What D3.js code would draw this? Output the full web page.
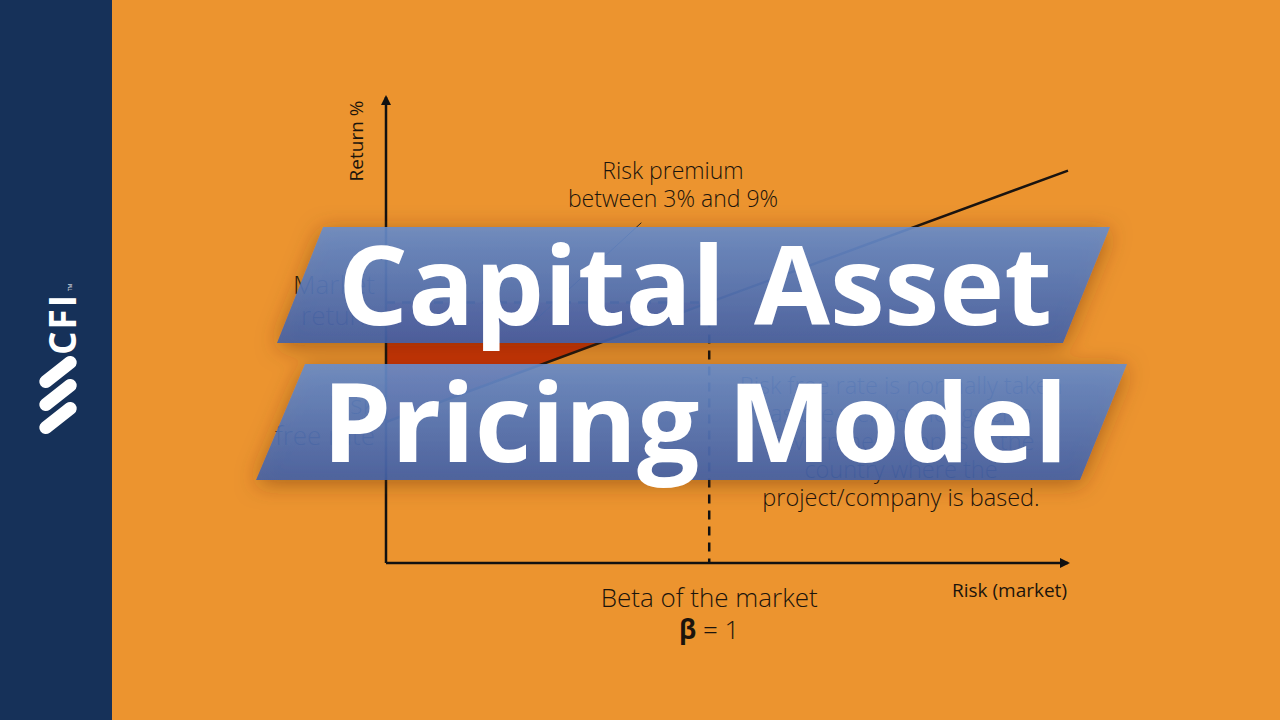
<!DOCTYPE html>
<html>
<head>
<meta charset="utf-8">
<script src="https://cdn.jsdelivr.net/npm/d3@7"></script>
<style>
  html, body { margin: 0; padding: 0; background: #ec942f; }
  svg { display: block; }
</style>
</head>
<body>
<div id="capm"></div>
<script>
// security market line: beta -> expected return (%)
const betas = [0, 1, 2.11];
const smlReturns = [4.6, 8.5, 12.8];
const riskFree = 4.6;
const marketReturn = 8.5;
const marketBeta = 1;

const titleLines = ["Capital Asset", "Pricing Model"];
const noteLines = [
    "Risk free rate is normally taken",
    "as the yield on long-term",
    "government bonds in the",
    "country where the",
    "project/company is based."
];
const premiumLines = ["Risk premium", "between 3% and 9%"];

const W = 1280, H = 720;
const font = "'Open Sans', 'Noto Sans', sans-serif";

const svg = d3.select("#capm")
    .append("svg")
    .attr("width", W)
    .attr("height", H);

const defs = svg.append("defs");

defs.append("marker")
    .attr("id", "arrow")
    .attr("viewBox", "0 0 10 10")
    .attr("refX", 8).attr("refY", 5)
    .attr("markerWidth", 4).attr("markerHeight", 4)
    .attr("orient", "auto")
    .append("path")
    .attr("d", "M0,0L10,5L0,10Z")
    .attr("fill", "#111");

defs.append("marker")
    .attr("id", "thinArrow")
    .attr("viewBox", "0 0 10 10")
    .attr("refX", 8).attr("refY", 5)
    .attr("markerWidth", 7).attr("markerHeight", 7)
    .attr("orient", "auto")
    .append("path")
    .attr("d", "M0,1L10,5L0,9Z")
    .attr("fill", "#222");

const grad = defs.append("linearGradient")
    .attr("id", "bannerGrad")
    .attr("x1", 0).attr("y1", 0).attr("x2", 0).attr("y2", 1);
grad.append("stop").attr("offset", "0%").attr("stop-color", "#688dca");
grad.append("stop").attr("offset", "100%").attr("stop-color", "#4361a6");

const shadow = defs.append("filter")
    .attr("id", "shadow")
    .attr("x", "-20%").attr("y", "-40%")
    .attr("width", "140%").attr("height", "180%");
shadow.append("feDropShadow")
    .attr("dx", 0).attr("dy", 4)
    .attr("stdDeviation", 11)
    .attr("flood-color", "#5a2a00")
    .attr("flood-opacity", 0.5);

// background
svg.append("rect")
    .attr("width", W).attr("height", H)
    .attr("fill", "#ec942f");

const x = d3.scaleLinear()
    .domain([0, 2.11])
    .range([386, 1068]);

const y = d3.scaleLinear()
    .domain([0, 15.2])
    .range([563, 97]);

const chart = svg.append("g").attr("class", "chart");

// premium triangle
chart.append("path")
    .attr("d", d3.line()([
        [x(0), y(marketReturn)],
        [x(marketBeta), y(marketReturn)],
        [x(0), y(riskFree)]
    ]) + "Z")
    .attr("fill", "#cc3306");

// axes
chart.append("line")
    .attr("x1", x(0)).attr("y1", y(0))
    .attr("x2", x(0)).attr("y2", y.range()[1])
    .attr("stroke", "#111").attr("stroke-width", 2.5)
    .attr("marker-end", "url(#arrow)");

chart.append("line")
    .attr("x1", x(0)).attr("y1", y(0))
    .attr("x2", x.range()[1]).attr("y2", y(0))
    .attr("stroke", "#111").attr("stroke-width", 2.5)
    .attr("marker-end", "url(#arrow)");

// dashed guides
chart.append("line")
    .attr("x1", x(0)).attr("y1", y(marketReturn))
    .attr("x2", x(marketBeta)).attr("y2", y(marketReturn))
    .attr("stroke", "#111").attr("stroke-width", 2.5)
    .attr("stroke-dasharray", "9,7");

chart.append("line")
    .attr("x1", x(marketBeta)).attr("y1", y(marketReturn))
    .attr("x2", x(marketBeta)).attr("y2", y(0))
    .attr("stroke", "#111").attr("stroke-width", 2.5)
    .attr("stroke-dasharray", "9,7");

// security market line
chart.append("path")
    .datum(betas.map((b, i) => [b, smlReturns[i]]))
    .attr("d", d3.line().x(d => x(d[0])).y(d => y(d[1])))
    .attr("fill", "none")
    .attr("stroke", "#1a1410")
    .attr("stroke-width", 2.5);

// premium pointer
chart.append("line")
    .attr("x1", x(0.79)).attr("y1", y(11.1))
    .attr("x2", x(0.46)).attr("y2", y(7.9))
    .attr("stroke", "#222").attr("stroke-width", 1)
    .attr("marker-end", "url(#thinArrow)");

const textColor = "#1c140c";

chart.append("text")
    .attr("transform", `translate(363,141) rotate(-90)`)
    .attr("text-anchor", "middle")
    .attr("font-family", font)
    .attr("font-size", 19)
    .attr("fill", textColor)
    .text("Return %");

chart.append("text")
    .attr("x", 1067).attr("y", 597)
    .attr("text-anchor", "end")
    .attr("font-family", font)
    .attr("font-size", 19)
    .attr("fill", textColor)
    .text("Risk (market)");

chart.append("text")
    .attr("text-anchor", "middle")
    .attr("font-family", font)
    .attr("font-weight", 300)
    .attr("font-size", 23)
    .attr("fill", textColor)
    .selectAll("tspan")
    .data(premiumLines)
    .join("tspan")
    .attr("x", 673)
    .attr("y", (d, i) => 179 + i * 28)
    .text(d => d);

const leftLabels = [
    { lines: ["Market", "return"], value: marketReturn },
    { lines: ["Risk", "free rate"], value: riskFree }
];

leftLabels.forEach(l => {
    chart.append("text")
        .attr("text-anchor", "end")
        .attr("font-family", font)
        .attr("font-weight", 300)
        .attr("font-size", 26)
        .attr("fill", textColor)
        .selectAll("tspan")
        .data(l.lines)
        .join("tspan")
        .attr("x", 375)
        .attr("y", (d, i) => y(l.value) - 8 + i * 31)
        .text(d => d);
});

const beta = chart.append("text")
    .attr("text-anchor", "middle")
    .attr("font-family", font)
    .attr("font-weight", 300)
    .attr("font-size", 26)
    .attr("fill", textColor);
beta.append("tspan").attr("x", x(marketBeta)).attr("y", 607).text("Beta of the market");
const betaLine = beta.append("tspan").attr("x", x(marketBeta)).attr("y", 639);
betaLine.append("tspan").attr("font-weight", 700).text("\u03b2");
betaLine.append("tspan").text(" = 1");

chart.append("text")
    .attr("text-anchor", "middle")
    .attr("font-family", font)
    .attr("font-weight", 300)
    .attr("font-size", 23.5)
    .attr("fill", textColor)
    .selectAll("tspan")
    .data(noteLines)
    .join("tspan")
    .attr("x", 901)
    .attr("y", (d, i) => 394 + i * 28)
    .text(d => d);

// title banners
const banners = [
    [[323, 227], [1110, 227], [1063, 343], [277, 343]],
    [[305, 364], [1127, 364], [1080, 480], [256, 480]]
];

svg.append("g")
    .attr("filter", "url(#shadow)")
    .selectAll("path")
    .data(banners)
    .join("path")
    .attr("d", d => d3.line()(d) + "Z")
    .attr("fill", "url(#bannerGrad)")
    .attr("fill-opacity", 0.9);

svg.selectAll(".title")
    .data(titleLines)
    .join("text")
    .attr("class", "title")
    .attr("x", 695)
    .attr("y", (d, i) => 325 + i * 137)
    .attr("text-anchor", "middle")
    .attr("font-family", font)
    .attr("font-weight", 700)
    .attr("font-size", 110)
    .attr("fill", "#fff")
    .text(d => d);

// sidebar
svg.append("rect")
    .attr("width", 112).attr("height", H)
    .attr("fill", "#163159");

const logo = svg.append("g").attr("fill", "#fff");

[372, 395, 418].forEach(cy => {
    logo.append("rect")
        .attr("x", -22).attr("y", -6.5)
        .attr("width", 44).attr("height", 13)
        .attr("rx", 6.5)
        .attr("transform", `translate(58,${cy}) rotate(-38)`);
});

logo.append("text")
    .attr("transform", "translate(76,324) rotate(-90)")
    .attr("text-anchor", "middle")
    .attr("font-family", font)
    .attr("font-weight", 700)
    .attr("font-size", 37)
    .attr("letter-spacing", 2)
    .text("CFI");

logo.append("text")
    .attr("transform", "translate(72,291) rotate(-90)")
    .attr("font-family", font)
    .attr("font-size", 5)
    .text("TM");
</script>
</body>
</html>
